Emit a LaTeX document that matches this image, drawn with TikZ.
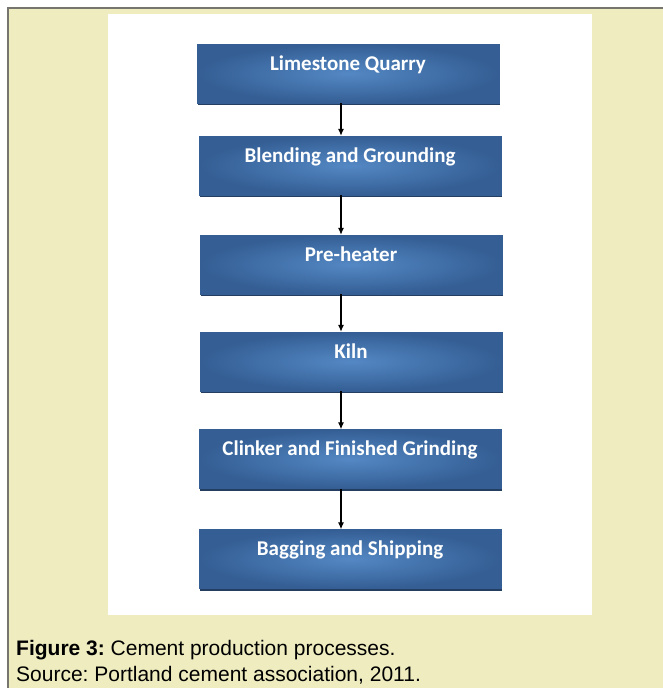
\documentclass[tikz,border=0pt]{standalone}
\usepackage{fontspec}
\setmainfont{Liberation Sans}
\newfontfamily\calibri{Carlito}
\usetikzlibrary{arrows.meta}
\usetikzlibrary{positioning}
\usetikzlibrary{shadows}
\frenchspacing
\definecolor{panel}{RGB}{239,237,192}
\definecolor{rim}{RGB}{118,118,110}
\definecolor{boxdark}{RGB}{52,94,148}
\definecolor{boxlight}{RGB}{84,136,196}
\definecolor{boxedge}{RGB}{36,62,98}
\tikzset{stage/.style = {rectangle, minimum width = 302pt, minimum height = 59pt,
    inner xsep = 0pt, inner ysep = 4pt, text height = 22pt, text depth = 29pt,
    inner color = boxlight, outer color = boxdark, draw = boxdark, line width = 0.4pt,
    drop shadow = {shadow xshift = 1pt, shadow yshift = -2pt, fill = boxedge, opacity = 1},
    text = white, font = \calibri\bfseries\fontsize{21}{24}\selectfont}}
\tikzset{flow/.style = {-{Latex[length = 7pt, width = 6pt]}, line width = 1.1pt}}

\begin{document}
\begin{tikzpicture}[x = 1pt, y = -1pt]
      \useasboundingbox (0, 0) rectangle (663, 688);
      % page panel and figure area
      \fill [panel] (7, 7) rectangle (663, 688);
      \draw [rim, line width = 2pt] (8, 688) -- (8, 8) -- (663, 8);
      \fill [white] (108, 14) rectangle (592, 615);
      % process stages
      \foreach \x/\y/\name/\txt in {348/73.5/lq/Limestone Quarry,
          350/165.5/bg/Blending and Grounding,
          351/264.5/ph/Pre-heater,
          351/361.5/kn/Kiln,
          350/459/cf/Clinker and Finished Grinding,
          350/559/bs/Bagging and Shipping} {
        \node [stage] (\name) at (\x, \y) {\txt};
      }
      \coordinate (spine) at (341, 0);
      \foreach \a/\b in {lq/bg, bg/ph, ph/kn, kn/cf, cf/bs} {
        \draw [flow] (\a.south -| spine) -- (\b.north -| spine);
      }
      % caption
      \node (cap) [anchor = base west, inner sep = 0pt, font = \fontsize{21}{26}\selectfont]
        at (16, 655) {\textbf{Figure 3:} Cement production processes.};
      \node (src) [anchor = base west, inner sep = 0pt, font = \fontsize{21}{26}\selectfont]
        at (16, 681) {Source: Portland cement association, 2011.};
    \end{tikzpicture}
\end{document}
